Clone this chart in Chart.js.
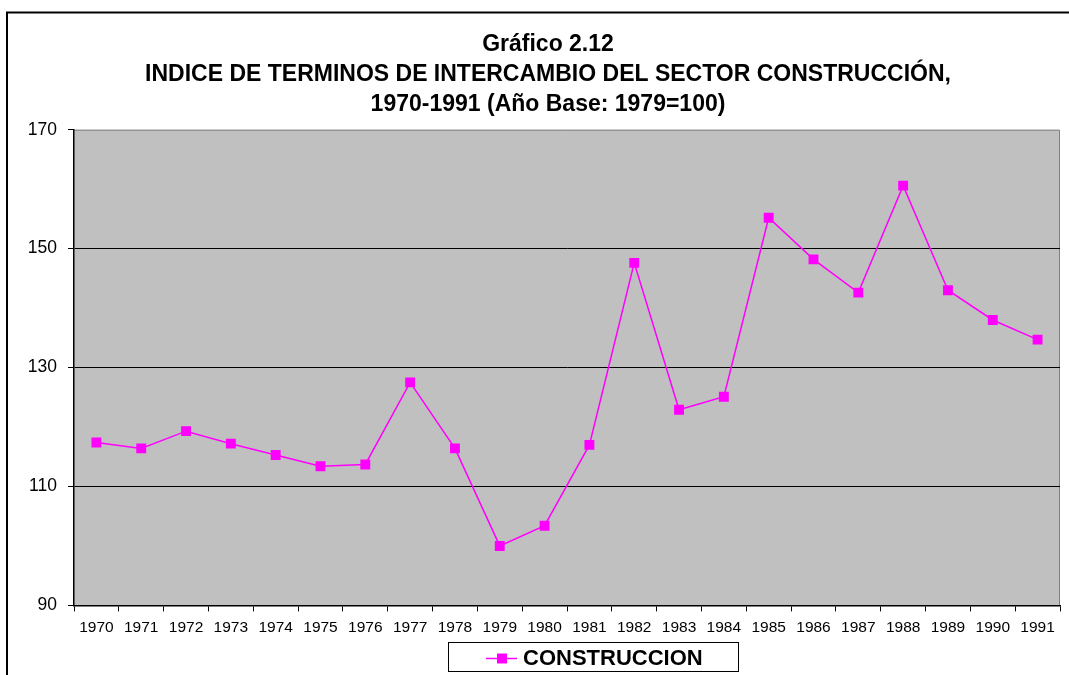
<!DOCTYPE html>
<html>
<head>
<meta charset="utf-8">
<script src="https://cdn.jsdelivr.net/npm/chart.js@4/dist/chart.umd.min.js"></script>
<style>
  html, body { margin: 0; padding: 0; background: #fff; overflow: hidden; }
  #wrap { position: relative; width: 1069px; height: 675px; }
</style>
</head>
<body>
<div id="wrap"><canvas id="chart" width="1069" height="675"></canvas></div>
<script>
const years = ['1970', '1971', '1972', '1973', '1974', '1975', '1976', '1977', '1978', '1979', '1980',
    '1981', '1982', '1983', '1984', '1985', '1986', '1987', '1988', '1989', '1990', '1991'];
const construccion = [117.4, 116.4, 119.3, 117.2, 115.3, 113.4, 113.7, 127.5, 116.4, 100.0, 103.4,
    117.0, 147.6, 122.9, 125.1, 155.2, 148.2, 142.6, 160.6, 143.0, 138.0, 134.7];
const titleLines = ['Gráfico 2.12', 'INDICE DE TERMINOS DE INTERCAMBIO DEL SECTOR CONSTRUCCIÓN,', '1970-1991 (Año Base: 1979=100)'];
const seriesName = 'CONSTRUCCION';

const magenta = '#FF00FF';
const arial = '"Liberation Sans", Arial, sans-serif';

// fondo gris del area de grafico, marco exterior y leyenda tipo Excel
const excelLook = {
    id: 'excelLook',
    afterLayout(chart) {
        // el eje Y es angosto para centrar el titulo; no recortar sus etiquetas
        chart.scales.y.left = 0;
    },
    beforeDraw(chart) {
        const { ctx, chartArea: a } = chart;
        ctx.save();
        ctx.fillStyle = '#C0C0C0';
        ctx.fillRect(a.left, a.top, a.right - a.left, a.bottom - a.top);
        ctx.strokeStyle = '#808080';
        ctx.lineWidth = 1;
        ctx.beginPath();
        ctx.moveTo(a.left, a.top + 0.5);
        ctx.lineTo(a.right - 0.5, a.top + 0.5);
        ctx.lineTo(a.right - 0.5, a.bottom);
        ctx.stroke();
        // marco del grafico
        ctx.strokeStyle = '#000';
        ctx.lineWidth = 2;
        ctx.strokeRect(7, 12.5, chart.width + 40, chart.height + 40);
        ctx.restore();
    },
    afterDraw(chart) {
        const { ctx } = chart;
        const bx = 448, by = 642, bw = 290, bh = 29;
        ctx.save();
        ctx.fillStyle = '#fff';
        ctx.fillRect(bx, by, bw, bh);
        ctx.strokeStyle = '#000';
        ctx.lineWidth = 1;
        ctx.strokeRect(bx + 0.5, by + 0.5, bw, bh);
        const cy = by + bh / 2 + 2;
        ctx.strokeStyle = magenta;
        ctx.lineWidth = 1.5;
        ctx.beginPath();
        ctx.moveTo(486, cy);
        ctx.lineTo(517, cy);
        ctx.stroke();
        ctx.fillStyle = magenta;
        ctx.fillRect(497, cy - 5, 10, 10);
        ctx.fillStyle = '#000';
        ctx.font = 'bold 22px ' + arial;
        ctx.textBaseline = 'middle';
        ctx.fillText(seriesName, 523, cy);
        ctx.restore();
    }
};

new Chart(document.getElementById('chart'), {
    type: 'line',
    data: {
        labels: years,
        datasets: [{
            label: seriesName,
            data: construccion,
            borderColor: magenta,
            backgroundColor: magenta,
            borderWidth: 1.5,
            pointStyle: 'rect',
            pointRadius: 7,
            pointBorderWidth: 0,
            tension: 0
        }]
    },
    options: {
        responsive: false,
        animation: false,
        layout: {
            padding: { left: 36, right: 9, top: 0, bottom: 31 }
        },
        plugins: {
            legend: { display: false },
            tooltip: { enabled: false },
            title: {
                display: true,
                text: titleLines,
                color: '#000',
                font: { family: arial, size: 23, weight: 'bold', lineHeight: 1.3 },
                padding: { top: 30, bottom: 10 }
            }
        },
        scales: {
            x: {
                offset: true,
                grid: {
                    offset: true,
                    drawOnChartArea: false,
                    color: '#000',
                    tickLength: 6,
                    tickColor: '#000'
                },
                border: { color: '#000', width: 1.5 },
                ticks: {
                    color: '#000',
                    maxRotation: 0,
                    autoSkip: false,
                    padding: 7,
                    font: { family: arial, size: 15.5 }
                }
            },
            y: {
                min: 90,
                max: 170,
                afterFit: scale => { scale.width = 38; },
                grid: {
                    color: ctx => (ctx.tick && (ctx.tick.value === 170 || ctx.tick.value === 90)) ? 'rgba(0,0,0,0)' : '#000',
                    tickColor: '#000',
                    tickLength: 6
                },
                border: { color: '#000', width: 1.5 },
                ticks: {
                    stepSize: 20,
                    color: '#000',
                    padding: 11,
                    font: { family: arial, size: 17.5 }
                }
            }
        }
    },
    plugins: [excelLook]
});
</script>
</body>
</html>
